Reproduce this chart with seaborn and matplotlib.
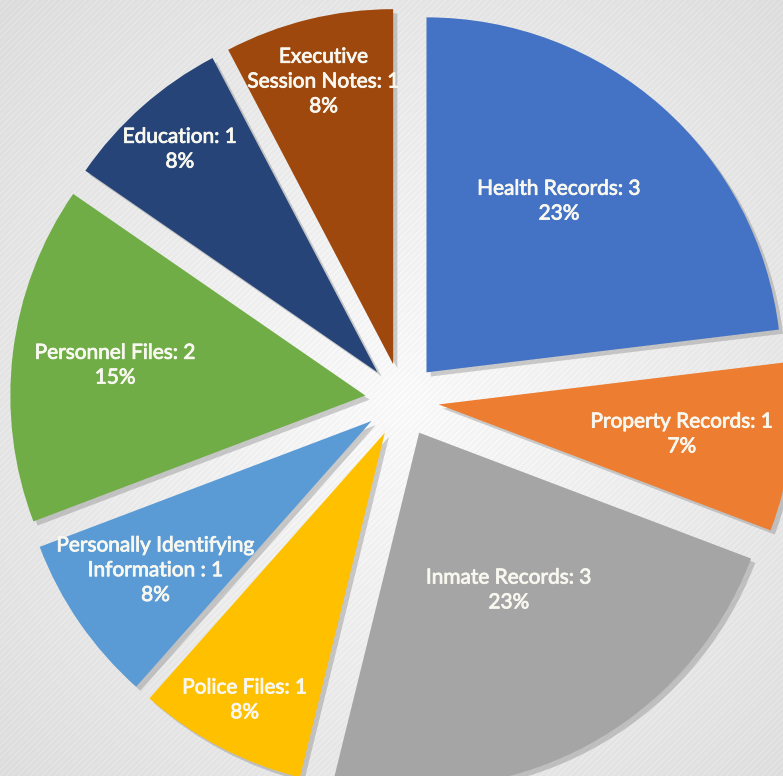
import numpy as np
import matplotlib
matplotlib.use("Agg")
import matplotlib.pyplot as plt
import matplotlib.patheffects as pe
import seaborn as sns

categories = ["Health Records", "Property Records", "Inmate Records", "Police Files",
              "Personally Identifying\nInformation ", "Personnel Files", "Education",
              "Executive\nSession Notes"]
values = [3, 1, 3, 1, 1, 2, 1, 1]
percents = ["23%", "7%", "23%", "8%", "8%", "15%", "8%", "8%"]
colors = ["#4472C4", "#ED7D31", "#A5A5A5", "#FFC000", "#5B9BD5", "#70AD47", "#264478", "#9E480E"]

# label placement (fraction of radius, angle offset from slice middle)
label_r = [0.61, 0.69, 0.51, 0.85, 0.74, 0.71, 0.84, 0.82]
label_dang = [3.8, 0, 2, 0, 0, 0, 0, 0]

sns.set_theme(style="white")
plt.rcParams['font.family'] = ['Lato', 'DejaVu Sans']

W, H = 783, 776
R = 355.0
cx, cy = 402.0, 400.0
fig = plt.figure(figsize=(W / 100, H / 100), dpi=100)
ax = fig.add_axes([0, 0, 1, 1])
xmin, xmax = -cx / R, (W - cx) / R
ymin, ymax = -(H - cy) / R, cy / R

# background: radial light gradient with faint diagonal stripes
yy, xx = np.mgrid[0:H, 0:W]
d = np.sqrt((xx - cx) ** 2 + (yy - cy) ** 2) / 560.0
d = np.clip(d, 0, 1)
c0 = np.array([0.97, 0.97, 0.97])
c1 = np.array([0.86, 0.86, 0.86])
img = c0[None, None, :] * (1 - d[..., None]) + c1[None, None, :] * d[..., None]
stripes = (((xx + yy) // 3) % 2 == 0)[..., None] * 0.02
img = np.clip(img + stripes, 0, 1)
ax.imshow(img, extent=[xmin, xmax, ymin, ymax], origin="upper", zorder=0, aspect="auto")

explode = [0.104] * len(values)
wedges, _ = ax.pie(values, colors=sns.color_palette(colors), startangle=90,
                   counterclock=False, explode=explode, radius=1.0,
                   wedgeprops=dict(linewidth=0, zorder=2))
for w in wedges:
    w.set_path_effects([pe.SimplePatchShadow(offset=(3, -3), shadow_rgbFace="#777777", alpha=0.35),
                        pe.Normal()])

for w, cat, v, p, rf, da in zip(wedges, categories, values, percents, label_r, label_dang):
    mid = np.deg2rad((w.theta1 + w.theta2) / 2 + da)
    x0, y0 = w.center
    x = x0 + rf * np.cos(mid)
    y = y0 + rf * np.sin(mid)
    t = ax.text(x, y, f"{cat}: {v}\n{p}", ha="center", va="center", color="#f8f8f0",
                fontsize=15, linespacing=1.3, zorder=5)
    t.set_path_effects([pe.withStroke(linewidth=0.6, foreground="#f8f8f0")])

ax.set_xlim(xmin, xmax)
ax.set_ylim(ymin, ymax)
ax.set_aspect("auto")
ax.axis("off")
fig.savefig("out.png", dpi=100)
